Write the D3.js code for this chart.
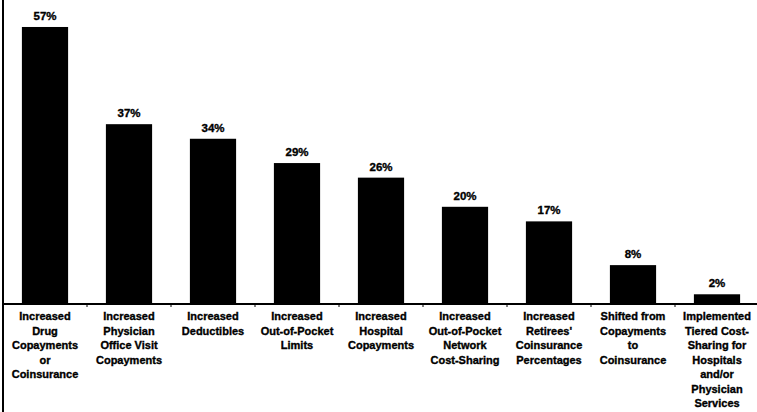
<!DOCTYPE html>
<html>
<head>
    <style>
        body { margin: 0; background: #fff; }
        text { font-family: "Liberation Sans", Arial, sans-serif; font-weight: bold; fill: #000; stroke: #000; stroke-width: 0.35px; }
        .pct { font-size: 11.5px; text-anchor: middle; }
        .cat { font-size: 11px; text-anchor: middle; }
    </style>
    <script src="https://d3js.org/d3.v7.min.js"></script>
</head>
<body>
    <svg width="757" height="412"></svg>
    <script>
        // data
        var categories = [
            ["Increased", "Drug", "Copayments", "or", "Coinsurance"],
            ["Increased", "Physician", "Office Visit", "Copayments"],
            ["Increased", "Deductibles"],
            ["Increased", "Out-of-Pocket", "Limits"],
            ["Increased", "Hospital", "Copayments"],
            ["Increased", "Out-of-Pocket", "Network", "Cost-Sharing"],
            ["Increased", "Retirees'", "Coinsurance", "Percentages"],
            ["Shifted from", "Copayments", "to", "Coinsurance"],
            ["Implemented", "Tiered Cost-", "Sharing for", "Hospitals", "and/or", "Physician", "Services"]
        ];
        var values = [57, 37, 34, 29, 26, 20, 17, 8, 2];

        var svg = d3.select("svg"),
            width = +svg.attr("width"),
            height = +svg.attr("height");

        var baseY = 304;

        var x = d3.scaleBand()
                  .domain(d3.range(values.length))
                  .range([3, 759])
                  .paddingInner(0.45)
                  .paddingOuter(0.225);

        var y = d3.scaleLinear()
                  .domain([0, 60])
                  .range([baseY, baseY - 60 * 4.86]);

        // bars
        svg.selectAll(".bar")
           .data(values)
           .enter().append("rect")
           .attr("class", "bar")
           .attr("x", function(d, i) { return x(i); })
           .attr("y", function(d) { return y(d); })
           .attr("width", x.bandwidth())
           .attr("height", function(d) { return baseY - y(d); })
           .attr("fill", "#000");

        // value labels
        svg.selectAll(".pct")
           .data(values)
           .enter().append("text")
           .attr("class", "pct")
           .attr("x", function(d, i) { return x(i) + x.bandwidth() / 2; })
           .attr("y", function(d) { return y(d) - 7; })
           .text(function(d) { return d + "%"; });

        // axes lines
        svg.append("line")
           .attr("x1", 3).attr("x2", width)
           .attr("y1", baseY).attr("y2", baseY)
           .attr("stroke", "#000").attr("stroke-width", 2);

        svg.append("line")
           .attr("x1", 3).attr("x2", 3)
           .attr("y1", 0).attr("y2", height)
           .attr("stroke", "#000").attr("stroke-width", 2);

        // small ticks at band boundaries
        var step = x.step();
        svg.selectAll(".tick")
           .data(d3.range(1, values.length))
           .enter().append("line")
           .attr("x1", function(d) { return x(d) - (step - x.bandwidth()) / 2; })
           .attr("x2", function(d) { return x(d) - (step - x.bandwidth()) / 2; })
           .attr("y1", baseY).attr("y2", baseY + 3)
           .attr("stroke", "#000").attr("stroke-width", 1);

        // category labels
        var cat = svg.selectAll(".cat")
           .data(categories)
           .enter().append("text")
           .attr("class", "cat")
           .attr("transform", function(d, i) {
               return "translate(" + (x(i) + x.bandwidth() / 2) + "," + 320 + ")";
           });

        cat.selectAll("tspan")
           .data(function(d) { return d; })
           .enter().append("tspan")
           .attr("x", 0)
           .attr("y", function(d, j) { return j * 14.5; })
           .text(function(d) { return d; });
    </script>
</body>
</html>
